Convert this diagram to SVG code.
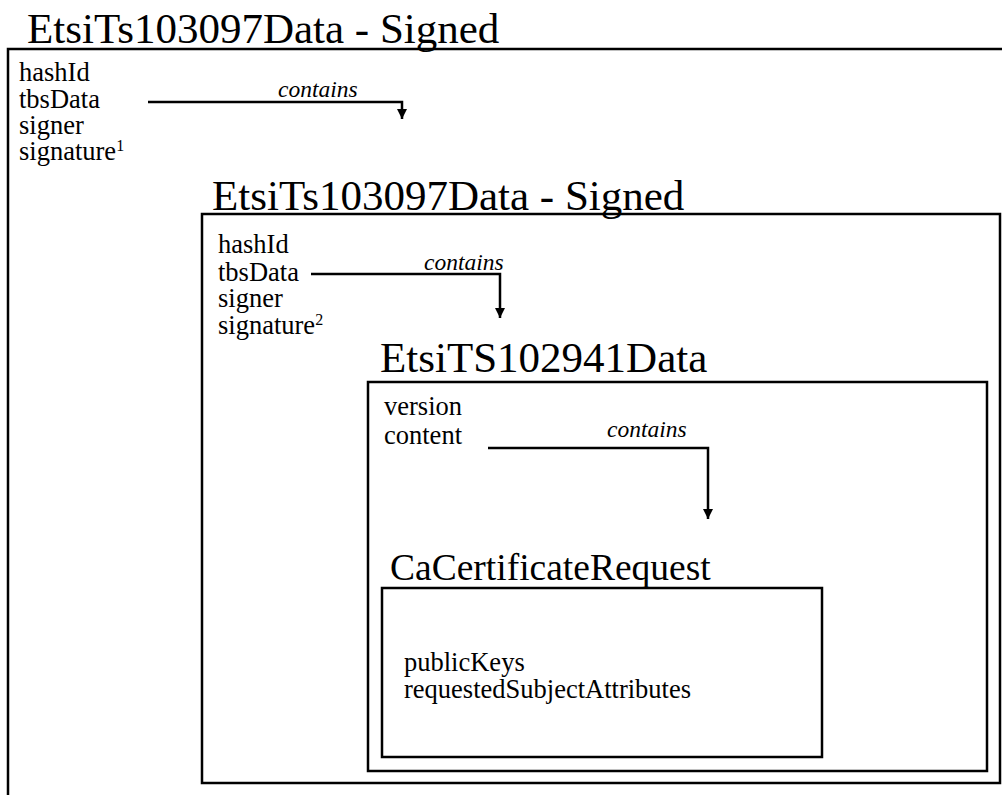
<svg xmlns="http://www.w3.org/2000/svg" width="1002" height="795" viewBox="0 0 1002 795">
<style>
.box{fill:none;stroke:#000;stroke-width:2.5}
.title{font-family:'Liberation Serif','Times New Roman',Times,serif;font-size:43px;fill:#000}
.fld{font-family:'Liberation Serif','Times New Roman',Times,serif;font-size:26.5px;fill:#000}
.lbl{font-family:'Liberation Serif','Times New Roman',Times,serif;font-size:23.5px;font-style:italic;fill:#000}
.conn{fill:none;stroke:#000;stroke-width:2.5}
</style>
<defs>
<marker id="ah" viewBox="0 0 10 10" refX="10" refY="5" markerWidth="4" markerHeight="4" orient="auto" markerUnits="strokeWidth">
<path d="M0,0 L10,5 L0,10 z" fill="#000"/>
</marker>
</defs>
<rect width="1002" height="795" fill="#fff"/>
<g id="outer">
<text class="title" x="27" y="43">EtsiTs103097Data - Signed</text>
<path class="box" d="M1010,49 H8 V805"/>
<text class="fld" x="19" y="81">hashId</text>
<text class="fld" x="19" y="108">tbsData</text>
<text class="fld" x="19" y="134">signer</text>
<text class="fld" x="19" y="160">signature<tspan font-size="16" dy="-9">1</tspan></text>
</g>
<g id="signed2">
<text class="title" x="212" y="210">EtsiTs103097Data - Signed</text>
<rect class="box" x="202" y="214" width="798" height="569"/>
<text class="fld" x="218" y="253">hashId</text>
<text class="fld" x="218" y="281">tbsData</text>
<text class="fld" x="218" y="307">signer</text>
<text class="fld" x="218" y="334">signature<tspan font-size="16" dy="-9">2</tspan></text>
</g>
<g id="etsi102941">
<text class="title" x="380" y="372">EtsiTS102941Data</text>
<rect class="box" x="368" y="382" width="619" height="389"/>
<text class="fld" x="384" y="415">version</text>
<text class="fld" x="384" y="444">content</text>
</g>
<g id="caCertReq">
<text class="title" x="390" y="580" style="font-size:37.5px">CaCertificateRequest</text>
<rect class="box" x="382" y="588" width="440" height="169"/>
<text class="fld" x="404" y="671">publicKeys</text>
<text class="fld" x="404" y="698">requestedSubjectAttributes</text>
</g>
<g id="connectors">
<path class="conn" d="M148,102 H402 V119" marker-end="url(#ah)"/>
<text class="lbl" x="278" y="97">contains</text>
<path class="conn" d="M311,274 H500 V318" marker-end="url(#ah)"/>
<text class="lbl" x="424" y="270">contains</text>
<path class="conn" d="M488,448 H708 V519" marker-end="url(#ah)"/>
<text class="lbl" x="607" y="437">contains</text>
</g>
</svg>
